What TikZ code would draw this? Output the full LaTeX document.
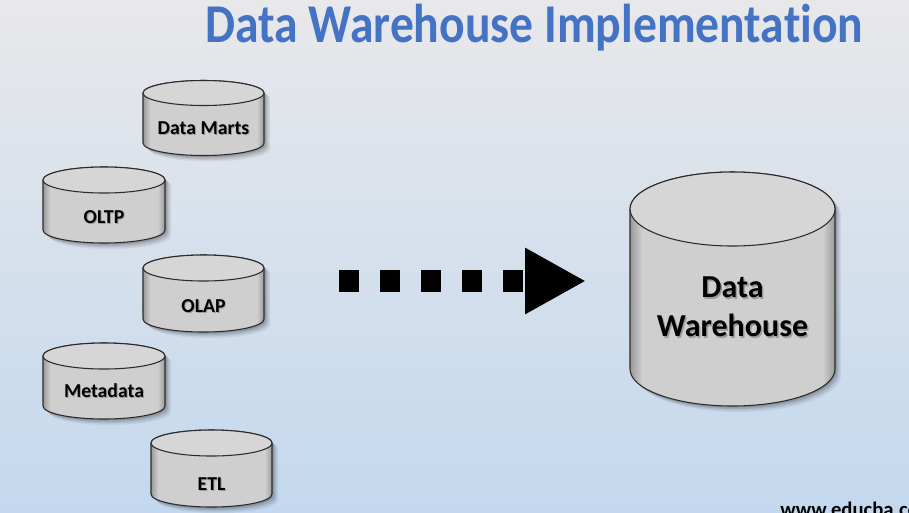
\documentclass[tikz,border=0pt]{standalone}
\usepackage{fontspec}
\setmainfont{Carlito}[Ligatures={NoCommon}]
\usetikzlibrary{arrows.meta}
\definecolor{titleblue}{HTML}{4472C4}
\definecolor{bgtop}{HTML}{E8E8EA}
\definecolor{bgbot}{HTML}{C3D8EE}
\definecolor{cyledge}{HTML}{9A9A9A}
\definecolor{cylmid}{HTML}{CFCFCF}
\definecolor{cyltop}{HTML}{D6D6D6}
\definecolor{cylline}{HTML}{2B2B2B}
\pgfdeclarehorizontalshading{cylbody}{100bp}{color(0bp)=(cyledge); color(25bp)=(cyledge); color(28bp)=(cylmid); color(72bp)=(cylmid); color(75bp)=(cyledge); color(100bp)=(cyledge)}
\newcommand\dbcyl[6]{% name, xl, xr, ytop, ybot, ry
  \pgfmathsetmacro\cylcx{(#2+#3)/2}%
  \pgfmathsetmacro\cylrx{(#3-#2)/2}%
  \foreach \s/\o in {6/0.06,4.5/0.08,3/0.1,1.5/0.12}{%
    \fill[black,opacity=\o,shift={(\s,\s)}] (#2,#4) -- (#2,#5)
      arc[start angle=180,end angle=0,x radius=\cylrx,y radius=#6] -- (#3,#4)
      arc[start angle=0,end angle=-180,x radius=\cylrx,y radius=#6] -- cycle;}
  \draw[cylstroke,shading=cylbody] (#2,#4) -- (#2,#5)
      arc[start angle=180,end angle=0,x radius=\cylrx,y radius=#6] -- (#3,#4)
      arc[start angle=0,end angle=-180,x radius=\cylrx,y radius=#6] -- cycle;
  \draw[cylstroke,fill=cyltop] (\cylcx,#4) ellipse[x radius=\cylrx,y radius=#6];
  \coordinate (#1) at (\cylcx,{(#4+#5)/2+#6});
}
\tikzset{
  cylstroke/.style={draw=cylline,line width=0.8pt},
  cyllabel/.style={font=\bfseries\fontsize{14.8}{17}\selectfont,inner sep=0pt,align=center},
  biglabel/.style={font=\bfseries\fontsize{24}{29}\selectfont},
  labelglow/.style={cyllabel,text=black,opacity=0.25},
}
\begin{document}
\begin{tikzpicture}[x=0.75pt,y=-0.75pt]
\useasboundingbox (0,0) rectangle (909,512);
\clip (0,0) rectangle (909,512);
\shade[top color=bgtop,bottom color=bgbot] (0,0) rectangle (909,512);

\node[anchor=base west,inner sep=0pt,text=titleblue,font=\bfseries\fontsize{41}{49}\selectfont] (title) at (205,42) {\resizebox{493.5pt}{\height}{Data Warehouse Implementation}};

\dbcyl{marts}{143}{264}{93}{143}{12.5}
\dbcyl{oltp}{43}{165}{180}{230}{13}
\dbcyl{olap}{143}{264}{268}{319}{13}
\dbcyl{meta}{43}{165}{356}{406}{13}
\dbcyl{etl}{151}{272}{443}{494}{13}
\dbcyl{dw}{630}{835}{209}{369}{37}

\node[labelglow] at (204.5,129) {Data Marts};
\node[cyllabel] (martslabel) at (203.5,128) {Data Marts};
\node[labelglow] at (105,218) {OLTP};
\node[cyllabel] (oltplabel) at (104,217) {OLTP};
\node[labelglow] at (204.5,307) {OLAP};
\node[cyllabel] (olaplabel) at (203.5,306) {OLAP};
\node[labelglow] at (105,392) {Metadata};
\node[cyllabel] (metalabel) at (104,391) {Metadata};
\node[labelglow] at (212.5,485) {ETL};
\node[cyllabel] (etllabel) at (211.5,484) {ETL};
\node[labelglow,biglabel] at (734,308.5) {Data\\Warehouse};
\node[cyllabel,biglabel] (dwlabel) at (732.5,307) {Data\\Warehouse};

\coordinate (arrowtail) at (339,281);
\coordinate (arrowtip) at (586,281);
\draw[line width=16.5pt,dash pattern=on 15pt off 15.75pt,
  -{Triangle[length=45.75pt,width=46.5pt]}] (arrowtail) -- (arrowtip);

\node[anchor=base west,inner sep=0pt,font=\bfseries\fontsize{15.5}{18}\selectfont] (watermark) at (780,516) {www.educba.co};
\end{tikzpicture}
\end{document}
